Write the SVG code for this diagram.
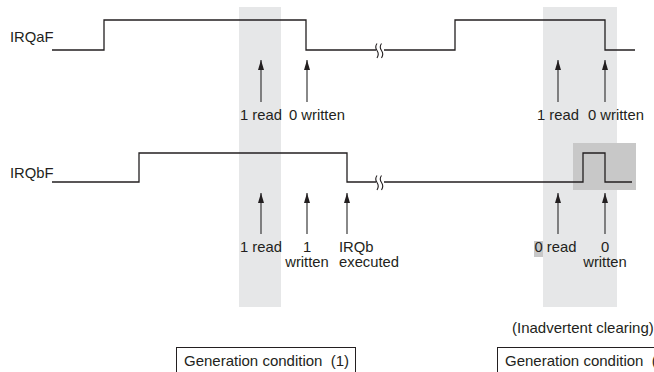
<svg xmlns="http://www.w3.org/2000/svg" width="654" height="372" viewBox="0 0 654 372">
<style>
.t{font-family:"Liberation Sans",Arial,sans-serif;font-size:14.8px;fill:#231f20;white-space:pre}
.sig{fill:none;stroke:#231f20;stroke-width:1.3}
.arr{stroke:#3a3a3a;stroke-width:1.2;fill:none}
.brk{fill:none;stroke:#231f20;stroke-width:1.1}
.band{fill:#e6e7e8}
.dark{fill:#c8c8c8}
.box{fill:#fff;stroke:#231f20;stroke-width:1}
</style>
<defs>
<marker id="ah" viewBox="0 0 10 6" refX="10" refY="3" markerWidth="10" markerHeight="6" markerUnits="userSpaceOnUse" orient="auto">
<path d="M0,0 L10,3 L0,6 Z" fill="#231f20"/>
</marker>
</defs>
<g id="bands">
<rect class="band" x="239" y="7" width="42" height="300"/>
<rect class="band" x="543" y="7" width="74" height="300"/>
<rect class="dark" x="573" y="143" width="63" height="47"/>
<rect class="dark" x="534" y="241" width="9" height="16"/>
</g>
<g id="IRQaF">
<text class="t" x="10" y="42">IRQaF</text>
<path class="sig" d="M52,50 H104 V20 H306 V50 H376"/>
<path class="sig" d="M384,50 H455 V20 H605 V50 H635"/>
<path class="brk" d="M377,43.5 q-2.5,3.5 0,7 q2.5,3.5 0,7.5"/>
<path class="brk" d="M381.5,43.5 q-2.5,3.5 0,7 q2.5,3.5 0,7.5"/>
</g>
<g id="IRQbF">
<text class="t" x="10" y="178">IRQbF</text>
<path class="sig" d="M52,182 H139 V153 H347 V182 H376"/>
<path class="sig" d="M384,182 H583 V153 H605 V182 H632"/>
<path class="brk" d="M377,175.5 q-2.5,3.5 0,7 q2.5,3.5 0,7.5"/>
<path class="brk" d="M381.5,175.5 q-2.5,3.5 0,7 q2.5,3.5 0,7.5"/>
</g>
<g id="connectors">
<line class="arr" x1="261" y1="102" x2="261" y2="60" marker-end="url(#ah)"/>
<line class="arr" x1="307" y1="102" x2="307" y2="60" marker-end="url(#ah)"/>
<line class="arr" x1="558" y1="102" x2="558" y2="60" marker-end="url(#ah)"/>
<line class="arr" x1="605" y1="102" x2="605" y2="60" marker-end="url(#ah)"/>
<line class="arr" x1="261" y1="234" x2="261" y2="193" marker-end="url(#ah)"/>
<line class="arr" x1="307" y1="234" x2="307" y2="193" marker-end="url(#ah)"/>
<line class="arr" x1="347" y1="234" x2="347" y2="193" marker-end="url(#ah)"/>
<line class="arr" x1="558" y1="234" x2="558" y2="193" marker-end="url(#ah)"/>
<line class="arr" x1="605" y1="234" x2="605" y2="193" marker-end="url(#ah)"/>
</g>
<g id="labels-top">
<text class="t" x="240" y="120">1 read</text>
<text class="t" x="289" y="120">0 written</text>
<text class="t" x="537" y="120">1 read</text>
<text class="t" x="588" y="120">0 written</text>
</g>
<g id="labels-bottom">
<text class="t" x="240" y="252">1 read</text>
<text class="t" x="307" y="252" text-anchor="middle">1</text>
<text class="t" x="307" y="267" text-anchor="middle">written</text>
<text class="t" x="339" y="252">IRQb</text>
<text class="t" x="339" y="267">executed</text>
<text class="t" x="534.5" y="252">0 read</text>
<text class="t" x="605" y="252" text-anchor="middle">0</text>
<text class="t" x="605" y="267" text-anchor="middle">written</text>
</g>
<g id="note">
<text class="t" x="512" y="333" style="font-size:15px">(Inadvertent clearing)</text>
</g>
<g id="cond1">
<rect class="box" x="176.5" y="347.5" width="179" height="30"/>
<text class="t" x="184" y="366" style="font-size:15px">Generation condition  (1)</text>
</g>
<g id="cond2">
<rect class="box" x="497.5" y="347.5" width="170" height="30"/>
<text class="t" x="505" y="366" style="font-size:15px">Generation condition  (2)</text>
</g>
</svg>
